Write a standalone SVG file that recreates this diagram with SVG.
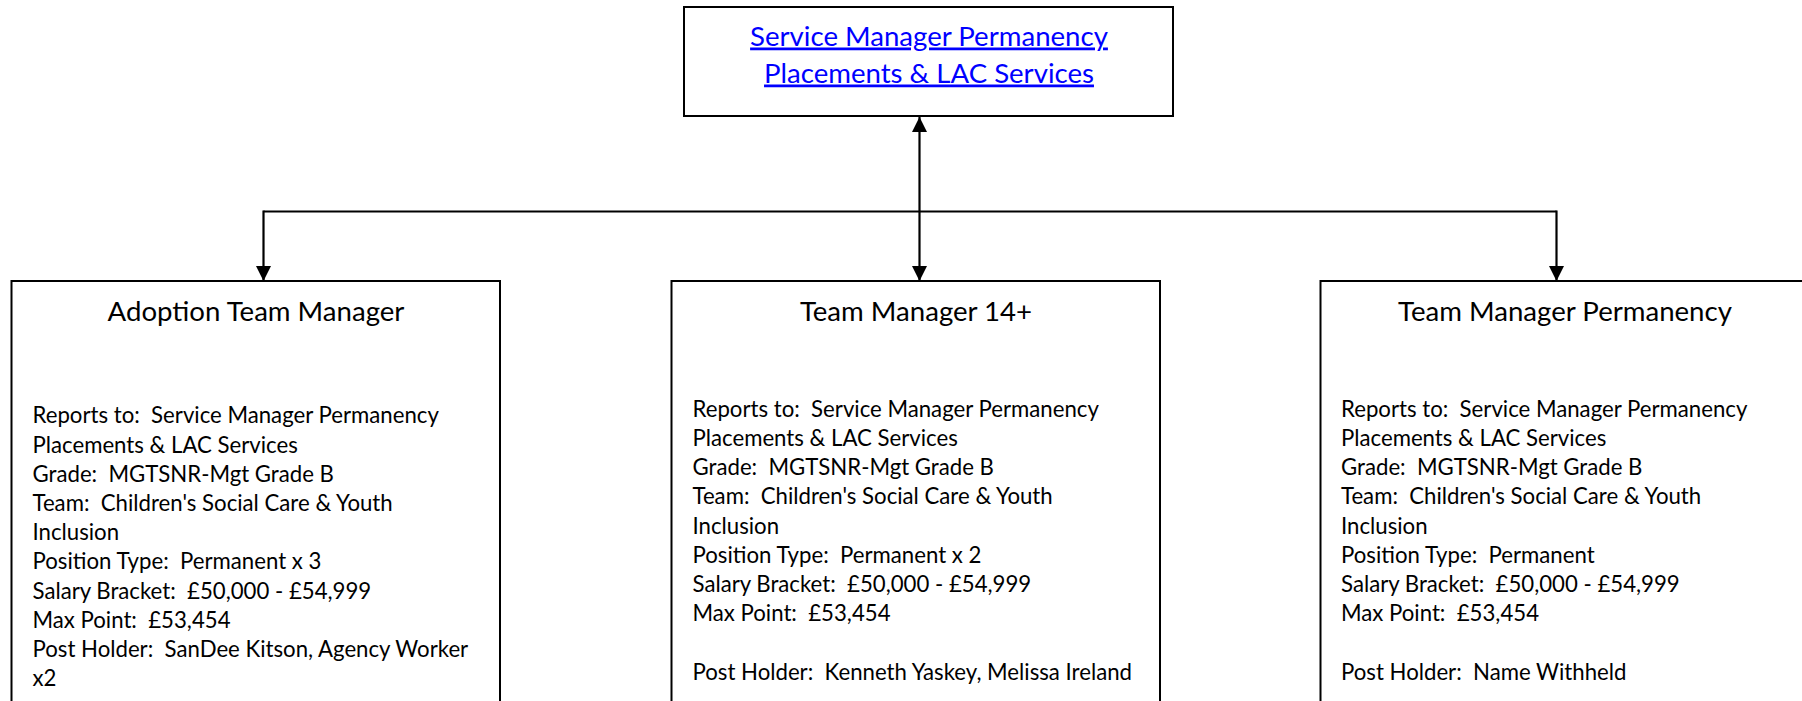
<svg xmlns="http://www.w3.org/2000/svg" width="1802" height="701" viewBox="0 0 1802 701">
<defs>
<style>
.box{fill:#fff;stroke:#000;stroke-width:2}
.conn{fill:none;stroke:#000;stroke-width:2.2}
.head{font-family:Lato,"Open Sans",sans-serif;font-size:27.6px;fill:#000;text-anchor:middle}
.link{font-family:Lato,"Open Sans",sans-serif;font-size:27.6px;fill:#0000FF;text-anchor:middle;text-decoration:underline}
.body{font-family:Lato,"Open Sans",sans-serif;font-size:22.2px;fill:#000}
.body tspan{white-space:pre}
</style>
<marker id="arr" markerUnits="userSpaceOnUse" markerWidth="16" markerHeight="16" viewBox="0 0 16 16" refX="15" refY="7.5" orient="auto-start-reverse">
<path d="M0,0 L15,7.5 L0,15 z" fill="#000"/>
</marker>
</defs>
<rect width="1802" height="701" fill="#fff"/>
<g id="connectors">
<path class="conn" d="M263.5,211.5 H1556.5"/>
<path class="conn" d="M263.5,210.5 V281" marker-end="url(#arr)"/>
<path class="conn" d="M1556.5,210.5 V281" marker-end="url(#arr)"/>
<path class="conn" d="M919.5,117 V281" marker-start="url(#arr)" marker-end="url(#arr)"/>
</g>
<g id="service-manager">
<rect class="box" x="684" y="7" width="489" height="109"/>
<text class="link" x="929" y="45.5">Service Manager Permanency</text>
<text class="link" x="929" y="82.5">Placements &amp; LAC Services</text>
</g>
<g id="adoption-team-manager">
<rect class="box" x="11.5" y="281" width="488.5" height="440"/>
<text class="head" x="256" y="320.5">Adoption Team Manager</text>
<text class="body" x="32.5">
<tspan x="32.5" y="423.3">Reports to:  Service Manager Permanency</tspan>
<tspan x="32.5" y="452.5">Placements &amp; LAC Services</tspan>
<tspan x="32.5" y="481.7">Grade:  MGTSNR-Mgt Grade B</tspan>
<tspan x="32.5" y="510.9">Team:  Children's Social Care &amp; Youth</tspan>
<tspan x="32.5" y="540.1">Inclusion</tspan>
<tspan x="32.5" y="569.3">Position Type:  Permanent x 3</tspan>
<tspan x="32.5" y="598.5">Salary Bracket:  £50,000 - £54,999</tspan>
<tspan x="32.5" y="627.7">Max Point:  £53,454</tspan>
<tspan x="32.5" y="656.9">Post Holder:  SanDee Kitson, Agency Worker</tspan>
<tspan x="32.5" y="686.1">x2</tspan>
</text>
</g>
<g id="team-manager-14">
<rect class="box" x="671.5" y="281" width="488.5" height="440"/>
<text class="head" x="916" y="320.5">Team Manager 14+</text>
<text class="body" x="692.5">
<tspan x="692.5" y="416.7">Reports to:  Service Manager Permanency</tspan>
<tspan x="692.5" y="445.9">Placements &amp; LAC Services</tspan>
<tspan x="692.5" y="475.1">Grade:  MGTSNR-Mgt Grade B</tspan>
<tspan x="692.5" y="504.3">Team:  Children's Social Care &amp; Youth</tspan>
<tspan x="692.5" y="533.5">Inclusion</tspan>
<tspan x="692.5" y="562.7">Position Type:  Permanent x 2</tspan>
<tspan x="692.5" y="591.9">Salary Bracket:  £50,000 - £54,999</tspan>
<tspan x="692.5" y="621.1">Max Point:  £53,454</tspan>
<tspan x="692.5" y="679.5">Post Holder:  Kenneth Yaskey, Melissa Ireland</tspan>
</text>
</g>
<g id="team-manager-permanency">
<rect class="box" x="1320.5" y="281" width="488.5" height="440"/>
<text class="head" x="1565" y="320.5">Team Manager Permanency</text>
<text class="body" x="1341">
<tspan x="1341" y="416.7">Reports to:  Service Manager Permanency</tspan>
<tspan x="1341" y="445.9">Placements &amp; LAC Services</tspan>
<tspan x="1341" y="475.1">Grade:  MGTSNR-Mgt Grade B</tspan>
<tspan x="1341" y="504.3">Team:  Children's Social Care &amp; Youth</tspan>
<tspan x="1341" y="533.5">Inclusion</tspan>
<tspan x="1341" y="562.7">Position Type:  Permanent</tspan>
<tspan x="1341" y="591.9">Salary Bracket:  £50,000 - £54,999</tspan>
<tspan x="1341" y="621.1">Max Point:  £53,454</tspan>
<tspan x="1341" y="679.5">Post Holder:  Name Withheld</tspan>
</text>
</g>
</svg>
